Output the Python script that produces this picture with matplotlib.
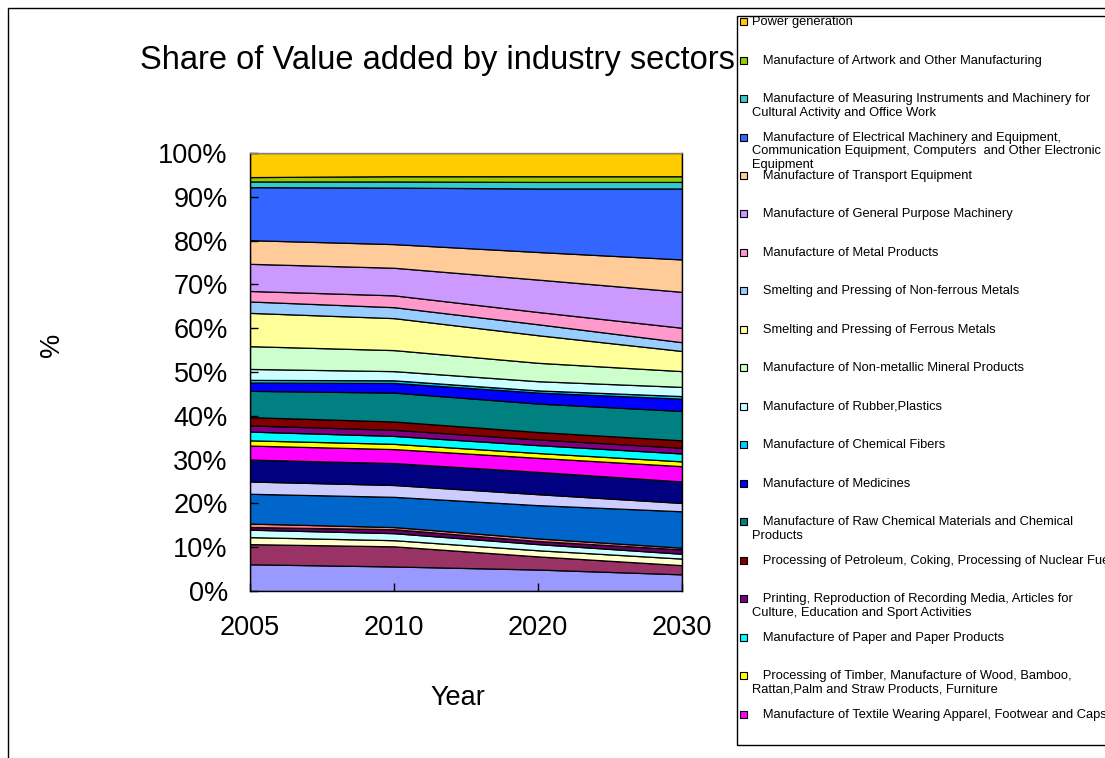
import matplotlib
matplotlib.use("Agg")
import matplotlib.pyplot as plt
from matplotlib.patches import Rectangle
import numpy as np

plt.rcParams['font.family'] = ['Liberation Sans', 'DejaVu Sans']

years = ['2005', '2010', '2020', '2030']

# sectors from the bottom of the stack to the top (legend lists them reversed)
sectors = [
    "   Other Industries",
    "   Mining and Washing of Coal",
    "   Extraction of Petroleum and Natural Gas",
    "   Mining and Processing of Ferrous Metal Ores",
    "   Mining and Processing of Non-ferrous Metal Ores",
    "   Mining and Processing of Non-metal Ores",
    "   Processing of Food, Manufacture of Foods and Beverages",
    "   Manufacture of Tobacco",
    "   Manufacture of Textile",
    "   Manufacture of Textile Wearing Apparel, Footwear and Caps",
    "   Processing of Timber, Manufacture of Wood, Bamboo,\nRattan,Palm and Straw Products, Furniture",
    "   Manufacture of Paper and Paper Products",
    "   Printing, Reproduction of Recording Media, Articles for\nCulture, Education and Sport Activities",
    "   Processing of Petroleum, Coking, Processing of Nuclear Fuel",
    "   Manufacture of Raw Chemical Materials and Chemical\nProducts",
    "   Manufacture of Medicines",
    "   Manufacture of Chemical Fibers",
    "   Manufacture of Rubber,Plastics",
    "   Manufacture of Non-metallic Mineral Products",
    "   Smelting and Pressing of Ferrous Metals",
    "   Smelting and Pressing of Non-ferrous Metals",
    "   Manufacture of Metal Products",
    "   Manufacture of General Purpose Machinery",
    "   Manufacture of Transport Equipment",
    "   Manufacture of Electrical Machinery and Equipment,\nCommunication Equipment, Computers  and Other Electronic\nEquipment",
    "   Manufacture of Measuring Instruments and Machinery for\nCultural Activity and Office Work",
    "   Manufacture of Artwork and Other Manufacturing",
    "Power generation",
]

colors = ['#9999FF', '#993366', '#FFFFCC', '#CCFFFF', '#660066', '#FF8080',
          '#0066CC', '#CCCCFF', '#000080', '#FF00FF', '#FFFF00', '#00FFFF',
          '#800080', '#800000', '#008080', '#0000FF', '#00CCFF', '#CCFFFF',
          '#CCFFCC', '#FFFF99', '#99CCFF', '#FF99CC', '#CC99FF', '#FFCC99',
          '#3366FF', '#33CCCC', '#99CC00', '#FFCC00']

# share of value added (%), same order as sectors
share_2005 = [6.1, 4.6, 1.6, 1.7, 0.6, 0.8, 6.8, 2.8, 5.0, 3.2, 1.2, 2.0, 1.4, 1.9,
              6.0, 1.9, 0.6, 2.5, 5.2, 7.6, 2.6, 2.4, 6.2, 5.4, 12.1, 1.3, 1.0, 5.5]
share_2010 = [5.6, 4.6, 1.4, 1.6, 0.9, 0.5, 6.9, 2.7, 5.0, 3.2, 1.2, 1.8, 1.4, 1.9,
              6.6, 2.2, 0.6, 2.1, 4.8, 7.3, 2.5, 2.7, 6.3, 5.4, 12.9, 1.4, 1.2, 5.3]
share_2020 = [4.9, 3.0, 1.4, 1.4, 0.7, 0.6, 7.6, 2.5, 5.1, 3.2, 1.1, 1.8, 1.3, 1.7,
              6.5, 2.5, 0.5, 2.1, 4.2, 6.3, 2.5, 2.8, 7.4, 6.3, 14.5, 1.5, 1.3, 5.3]
share_2030 = [3.8, 2.1, 1.5, 1.1, 1.0, 0.4, 8.3, 1.9, 4.9, 3.5, 1.1, 1.8, 1.3, 1.7,
              6.7, 2.8, 0.6, 2.1, 3.6, 4.6, 2.0, 3.3, 8.2, 7.4, 16.2, 1.5, 1.3, 5.3]

W, H = 1105, 758


def fx(x):
    return x / W


def fy(y):
    return 1 - y / H


fig = plt.figure(figsize=(W / 100, H / 100), dpi=100)
ax = fig.add_axes([fx(250), fy(591), fx(682) - fx(250), fy(153) - fy(591)])

x = np.arange(len(years))
data = np.array([share_2005, share_2010, share_2020, share_2030]).T
ax.stackplot(x, data, colors=colors, edgecolor='black', linewidth=0.9)

ax.set_xlim(0, len(years) - 1)
ax.set_ylim(0, 100)
ax.set_xticks(x)
ax.set_xticklabels(years)
ax.set_yticks(np.arange(0, 101, 10))
ax.set_yticklabels(['{}%'.format(v) for v in range(0, 101, 10)])
ax.tick_params(axis='both', direction='in', length=5.5, width=1, labelsize=19.5)
ax.tick_params(axis='y', pad=16)
ax.tick_params(axis='x', pad=17)
for s in ax.spines.values():
    s.set_linewidth(1)
ax.spines['top'].set_color('#808080')

fig.text(fx(140), fy(60), 'Share of Value added by industry sectors',
         fontsize=23.5, ha='left', va='center')
fig.text(fx(52), fy(345), '%', fontsize=19.5, rotation=90, ha='center', va='center')
fig.text(fx(458), fy(698), 'Year', fontsize=19.5, ha='center', va='center')

# chart border
fig.add_artist(Rectangle((fx(8), fy(770)), 1.2, fy(8) - fy(770), transform=fig.transFigure,
                         fill=False, edgecolor='black', linewidth=1))

# legend box, entries listed from the top of the stack
fig.add_artist(Rectangle((fx(737), fy(745)), 1.2, fy(15.5) - fy(745), transform=fig.transFigure,
                         facecolor='white', edgecolor='black', linewidth=1, zorder=5))
step = 38.47
for i, (name, c) in enumerate(zip(sectors[::-1], colors[::-1])):
    yc = 21.6 + i * step
    if yc > 735:
        break
    fig.add_artist(Rectangle((fx(740), fy(yc + 3.5)), fx(7), fy(0) - fy(7),
                             transform=fig.transFigure, facecolor=c,
                             edgecolor='black', linewidth=0.8, zorder=6))
    fig.text(fx(752), fy(yc - 5.5), name, fontsize=9.3, ha='left', va='top',
             linespacing=1.2, zorder=6)

fig.savefig('out.png', dpi=100)
